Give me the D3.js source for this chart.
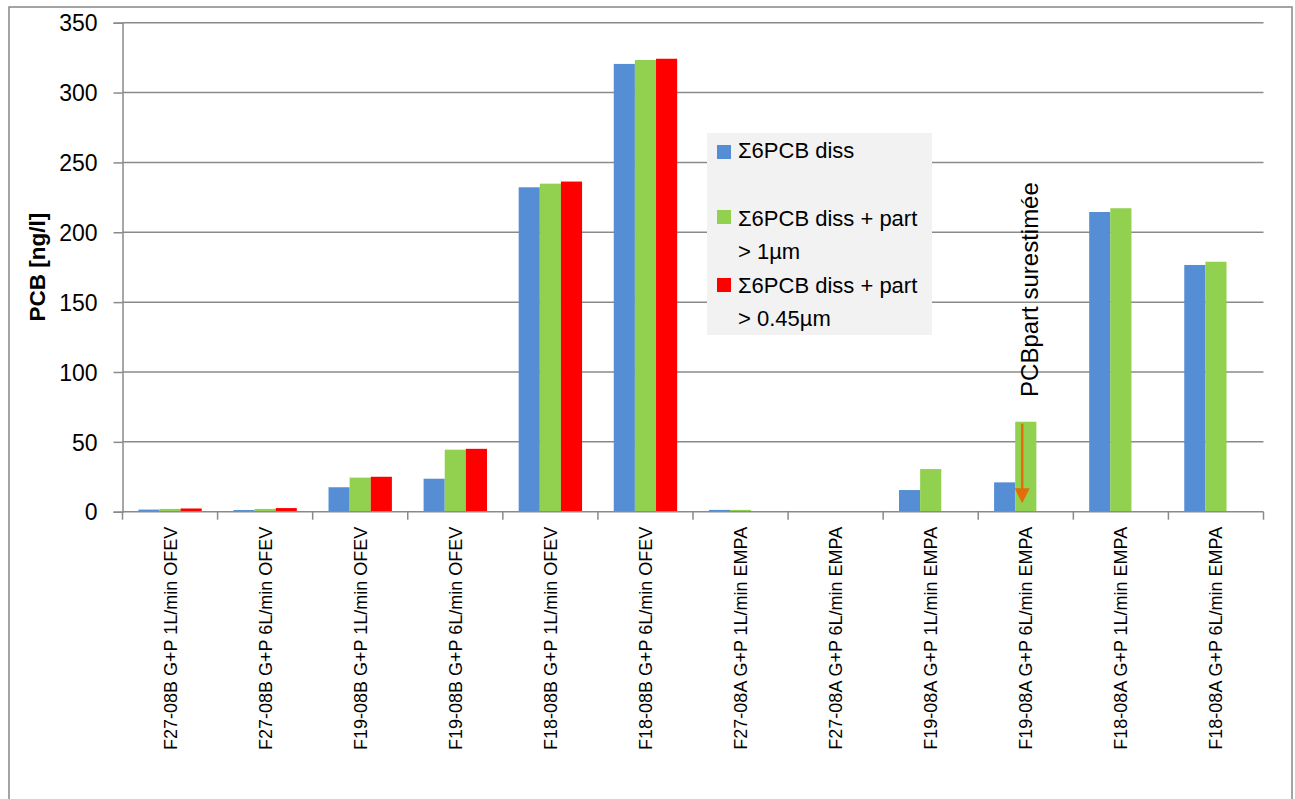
<!DOCTYPE html>
<html>
<head>
<meta charset="utf-8">
<script src="https://cdn.jsdelivr.net/npm/d3@7"></script>
<style>
  html, body { margin: 0; padding: 0; background: #fff; }
  svg { display: block; font-family: "Liberation Sans", Arial, sans-serif; }
</style>
</head>
<body>
<svg id="chart" width="1295" height="799"></svg>
<script>
const categories = [
  "F27-08B G+P 1L/min OFEV", "F27-08B G+P 6L/min OFEV",
  "F19-08B G+P 1L/min OFEV", "F19-08B G+P 6L/min OFEV",
  "F18-08B G+P 1L/min OFEV", "F18-08B G+P 6L/min OFEV",
  "F27-08A G+P 1L/min EMPA", "F27-08A G+P 6L/min EMPA",
  "F19-08A G+P 1L/min EMPA", "F19-08A G+P 6L/min EMPA",
  "F18-08A G+P 1L/min EMPA", "F18-08A G+P 6L/min EMPA"
];
const seriesNames = ["Σ6PCB diss", "Σ6PCB diss + part > 1µm", "Σ6PCB diss + part > 0.45µm"];
const diss     = [1.5, 1.2, 17.5, 23.6, 232.2, 320.5, 1.3, 0.5, 15.5, 21.0, 214.5, 176.6];
const part1    = [2.0, 2.0, 24.4, 44.4, 234.8, 323.3, 1.3, 0.5, 30.5, 64.4, 217.2, 178.9];
const part045  = [2.3, 2.6, 25.0, 45.0, 236.3, 324.2, null, null, null, null, null, null];
const yTicks = [0, 50, 100, 150, 200, 250, 300, 350];
const yTitle = "PCB [ng/l]";
const annotationText = "PCBpart surestimée";
const annotationCategory = "F19-08A G+P 6L/min EMPA";
const annotationFrom = 63, annotationTo = 6, annotationTextCenter = 159;

const colors = ["#558ED5", "#92D050", "#FF0000"];
const seriesValues = [diss, part1, part045];

const svg = d3.select("#chart");
const margin = { left: 122.5, right: 1263.5, top: 22.7, bottom: 511.7 };

// outer border
svg.append("rect").attr("x", 9).attr("y", 7).attr("width", 1283).attr("height", 800)
  .attr("fill", "#fff").attr("stroke", "#878787").attr("stroke-width", 1.5);

const x = d3.scaleBand().domain(categories).range([margin.left, margin.right]).paddingInner(0).paddingOuter(0);
const bw = x.bandwidth();
const xs = d3.scaleBand().domain([0, 1, 2]).range([0, bw]).paddingInner(0).paddingOuter(0.75);
const y = d3.scaleLinear().domain([0, 350]).range([margin.bottom, margin.top]);

// gridlines
svg.append("g").selectAll("line").data(yTicks.filter(d => d > 0)).join("line")
  .attr("x1", margin.left).attr("x2", margin.right)
  .attr("y1", d => y(d)).attr("y2", d => y(d))
  .attr("stroke", "#8a8a8a").attr("stroke-width", 1.5);

// bars
const barData = [];
categories.forEach((c, i) => {
  seriesValues.forEach((arr, s) => {
    if (arr[i] !== null && arr[i] !== undefined) barData.push({ c, s, v: arr[i] });
  });
});
svg.append("g").selectAll("rect").data(barData).join("rect")
  .attr("x", d => x(d.c) + xs(d.s))
  .attr("width", xs.bandwidth())
  .attr("y", d => y(d.v))
  .attr("height", d => y(0) - y(d.v))
  .attr("fill", d => colors[d.s]);

// y axis
const yAxis = svg.append("g").attr("transform", `translate(${margin.left},0)`)
  .call(d3.axisLeft(y).tickValues(yTicks).tickSize(9).tickPadding(16).tickFormat(d3.format("d")));
yAxis.select(".domain").attr("stroke", "#8a8a8a").attr("stroke-width", 1.5);
yAxis.selectAll(".tick line").attr("stroke", "#8a8a8a").attr("stroke-width", 1.5);
yAxis.selectAll(".tick text").attr("font-size", 23).attr("fill", "#000")
  .attr("font-family", "Liberation Sans, Arial, sans-serif").attr("dy", "0.36em");

// x axis
const xAxisG = svg.append("g");
xAxisG.append("line").attr("x1", margin.left).attr("x2", margin.right)
  .attr("y1", y(0)).attr("y2", y(0)).attr("stroke", "#8a8a8a").attr("stroke-width", 1.5);
const boundaries = categories.map(c => x(c)).concat([x(categories[categories.length - 1]) + bw]);
xAxisG.selectAll("line.tk").data(boundaries).join("line").attr("class", "tk")
  .attr("x1", d => d).attr("x2", d => d).attr("y1", y(0)).attr("y2", y(0) + 8)
  .attr("stroke", "#8a8a8a").attr("stroke-width", 1.5);
xAxisG.selectAll("text").data(categories).join("text")
  .attr("transform", d => `translate(${x(d) + bw / 2},${y(0) + 15}) rotate(-90)`)
  .attr("text-anchor", "end").attr("dy", "0.36em")
  .attr("font-size", 18).attr("fill", "#000")
  .text(d => d);

// y title
svg.append("text")
  .attr("transform", `translate(37,${(margin.top + margin.bottom) / 2}) rotate(-90)`)
  .attr("text-anchor", "middle").attr("dy", "0.36em")
  .attr("font-size", 22.5).attr("font-weight", "bold").attr("fill", "#000")
  .text(yTitle);

// legend
const lg = svg.append("g");
lg.append("rect").attr("x", 707).attr("y", 133).attr("width", 225).attr("height", 202).attr("fill", "#f2f2f2");
const legendItems = [
  { lines: ["Σ6PCB diss"], sq: 145, base: 158 },
  { lines: ["Σ6PCB diss + part", "> 1µm"], sq: 210, base: 226 },
  { lines: ["Σ6PCB diss + part", "> 0.45µm"], sq: 278, base: 293 }
];
legendItems.forEach((it, i) => {
  lg.append("rect").attr("x", 717).attr("y", it.sq).attr("width", 14).attr("height", 14).attr("fill", colors[i]);
  it.lines.forEach((t, j) => {
    lg.append("text").attr("x", 738).attr("y", it.base + j * 32.5)
      .attr("font-size", 22).attr("fill", "#000").text(t);
  });
});

// annotation
const annCx = x(annotationCategory) + xs(1) + xs.bandwidth() * 0.33;
const annColor = "#E46C0A";
svg.append("line").attr("x1", annCx).attr("x2", annCx)
  .attr("y1", y(annotationFrom)).attr("y2", y(annotationTo) - 14)
  .attr("stroke", annColor).attr("stroke-width", 2.5);
svg.append("path")
  .attr("d", `M${annCx - 7.5},${y(annotationTo) - 15} L${annCx + 7.5},${y(annotationTo) - 15} L${annCx},${y(annotationTo)} Z`)
  .attr("fill", annColor);
svg.append("text")
  .attr("transform", `translate(1038,${y(annotationTextCenter)}) rotate(-90)`)
  .attr("text-anchor", "middle")
  .attr("font-size", 24).attr("fill", "#000")
  .text(annotationText);
</script>
</body>
</html>
